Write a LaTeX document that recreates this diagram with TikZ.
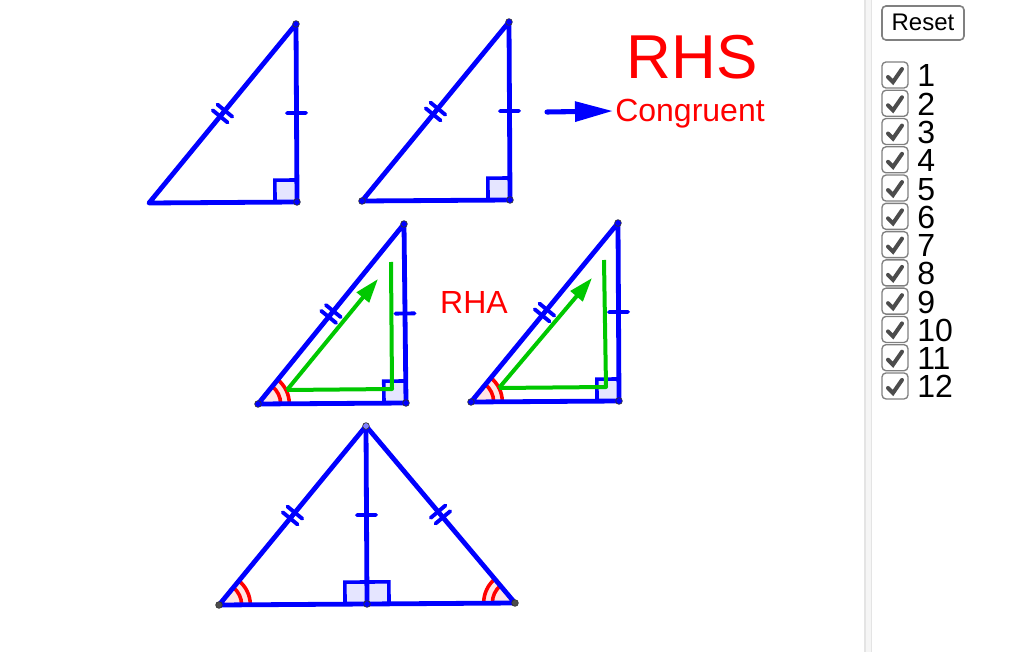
\documentclass[tikz,border=0pt]{standalone}
\usepackage{fontspec}
\setmainfont{Liberation Sans}
\usetikzlibrary{positioning, calc, angles, arrows.meta}
\definecolor{edgeblue}{RGB}{0,0,255}
\definecolor{armgreen}{RGB}{0,200,0}
\definecolor{marksred}{RGB}{255,0,0}
\definecolor{panelgray}{RGB}{228,228,228}
\definecolor{panelband}{RGB}{245,245,245}
\tikzset{
	x=0.75pt, y=-0.75pt, % one unit is one pixel of the reference
	edge/.style={draw=edgeblue, line width=3.6pt, line cap=round, line join=round},
	ticks/.style={draw=edgeblue, line width=2.9pt, line cap=round},
	vertex/.style={circle, draw=black!80, fill=edgeblue, line width=0.5pt, minimum size=5pt, inner sep=0pt},
	greyvertex/.style={vertex, fill=black!70},
	squaremark/.style={draw=edgeblue, fill=edgeblue!10, line width=2.7pt, angle radius=16.5pt},
	arcouter/.style={draw=marksred, fill=marksred!10, line width=2.7pt, angle radius=23.5pt},
	arcinner/.style={draw=marksred, line width=2.7pt, angle radius=17pt},
	arm/.style={draw=armgreen, line width=3pt},
	armarrow/.style={arm, -{Triangle[length=18pt, width=11.5pt]}},
	boxbutton/.style={draw=black!50, line width=1.2pt, rounded corners=3pt, fill=white},
	redlabel/.style={text=marksred, anchor=base},
	numlabel/.style={anchor=base west, inner sep=0pt, font=\fontsize{24}{24}\selectfont},
	checkbox/.style={draw=black!50, line width=1pt, rounded corners=3pt, fill=white},
	checkmark/.style={draw=black!70, line width=3pt, line cap=round},
}
% tick marks at the middle of a side
\newcommand{\singletick}[2]{
	\coordinate (mid) at ($(#1)!0.5!(#2)$);
	\draw[ticks] ($(mid)!7.2pt!90:(#2)$) -- ($(mid)!7.2pt!-90:(#2)$);
}
\newcommand{\doubletick}[2]{
	\coordinate (mid) at ($(#1)!0.5!(#2)$);
	\coordinate (midA) at ($(mid)!2.8pt!(#2)$);
	\coordinate (midB) at ($(mid)!-2.8pt!(#2)$);
	\draw[ticks] ($(midA)!7.2pt!90:(#2)$) -- ($(midA)!7.2pt!-90:(#2)$);
	\draw[ticks] ($(midB)!7.2pt!90:(#2)$) -- ($(midB)!7.2pt!-90:(#2)$);
}
\begin{document}
\begin{tikzpicture}
	\useasboundingbox (0,0) rectangle (1032,652);
	\fill[white] (0,0) rectangle (1032,652);
	% side panel
	\fill[panelgray] (864,0) rectangle (872,652);
	\fill[panelband] (865.5,0) rectangle (870.5,652);

	% Define points
	\coordinate (a1) at (149,203);
	\coordinate (b1) at (297,202);
	\coordinate (c1) at (296,24);
	\coordinate (a2) at (362,201);
	\coordinate (b2) at (510,200);
	\coordinate (c2) at (509,22);
	\coordinate (a3) at (258,404);
	\coordinate (b3) at (406,403);
	\coordinate (c3) at (404,224);
	\coordinate (a4) at (471,402);
	\coordinate (b4) at (619,401);
	\coordinate (c4) at (618,223);
	\coordinate (a5) at (219,605);
	\coordinate (b5) at (367,604);
	\coordinate (c5) at (366,426);
	\coordinate (d5) at (515,603);

	% Angle marks
	\path pic[squaremark] {right angle=a1--b1--c1};
	\path pic[squaremark] {right angle=a2--b2--c2};
	\path pic[squaremark] {right angle=a3--b3--c3};
	\path pic[squaremark] {right angle=a4--b4--c4};
	\path pic[squaremark] {right angle=a5--b5--c5};
	\path pic[squaremark] {right angle=c5--b5--d5};
	\foreach \n in {3,4,5} {
		\path pic[arcouter] {angle=b\n--a\n--c\n};
		\path pic[arcinner] {angle=b\n--a\n--c\n};
	}
	\path pic[arcouter] {angle=c5--d5--b5};
	\path pic[arcinner] {angle=c5--d5--b5};

	% Triangles
	\foreach \n in {1,2,3,4} {
		\draw[edge] (a\n) -- (b\n) -- (c\n) -- cycle;
		\doubletick{a\n}{c\n}
		\singletick{b\n}{c\n}
	}
	\draw[edge] (a5) -- (d5) -- (c5) -- cycle;
	\draw[edge] (c5) -- (b5);
	\doubletick{a5}{c5}
	\doubletick{d5}{c5}
	\singletick{b5}{c5}

	% Vertices
	\node[vertex] (vc1) at (c1) {};
	\node[vertex] (vb1) at (b1) {};
	\node[vertex] (va2) at (a2) {};
	\node[vertex] (vb2) at (b2) {};
	\node[vertex] (vc2) at (c2) {};
	\node[vertex] (va3) at (a3) {};
	\node[vertex] (vb3) at (b3) {};
	\node[vertex] (vc3) at (c3) {};
	\node[vertex] (va4) at (a4) {};
	\node[vertex] (vb4) at (b4) {};
	\node[vertex] (vc4) at (c4) {};
	\node[greyvertex] (va5) at (a5) {};
	\node[vertex] (vb5) at (b5) {};
	\node[vertex, fill=edgeblue!50] (vc5) at (c5) {};
	\node[greyvertex] (vd5) at (d5) {};

	% Green copies
	\coordinate (p3) at (391,262);
	\coordinate (q3) at (392,389);
	\coordinate (r3) at (287,390);
	\coordinate (s3) at (378,279);
	\coordinate (p4) at (604,260);
	\coordinate (q4) at (606,387);
	\coordinate (r4) at (499,388);
	\coordinate (s4) at (592,278);
	\foreach \n in {3,4} {
		\draw[arm, line join=round] (p\n) -- (q\n) -- (r\n);
		\draw[armarrow] (r\n) -- (s\n);
	}

	% Labels
	\coordinate (w0) at (547,112);
	\coordinate (w1) at (613,111);
	\draw[draw=edgeblue, line width=3.8pt, line cap=round, -{Triangle[length=28.5pt, width=14.5pt]}] (w0) -- (w1);
	\node[redlabel, font=\fontsize{46.5}{46.5}\selectfont] (rhs) at (692,79) {RHS};
	\node[redlabel, font=\fontsize{24}{24}\selectfont] (congruent) at (690,122) {Congruent};
	\node[redlabel, font=\fontsize{24}{24}\selectfont] (rha) at (474,314) {RHA};

	% Reset button and check boxes
	\draw[boxbutton] (882,6) rectangle (964,40);
	\node[anchor=base, font=\fontsize{18}{18}\selectfont] (reset) at (923,31) {Reset};
	\foreach \n [evaluate=\n as \ytop using {62+(\n-1)*28.27}] in {1,...,12} {
		\draw[checkbox] (882,\ytop) rectangle (908,\ytop+26);
		\draw[checkmark] (888,\ytop+15) -- (893,\ytop+20) -- (902,\ytop+7);
		\node[numlabel] (num\n) at (917,\ytop+25) {\n};
	}
\end{tikzpicture}
\end{document}
